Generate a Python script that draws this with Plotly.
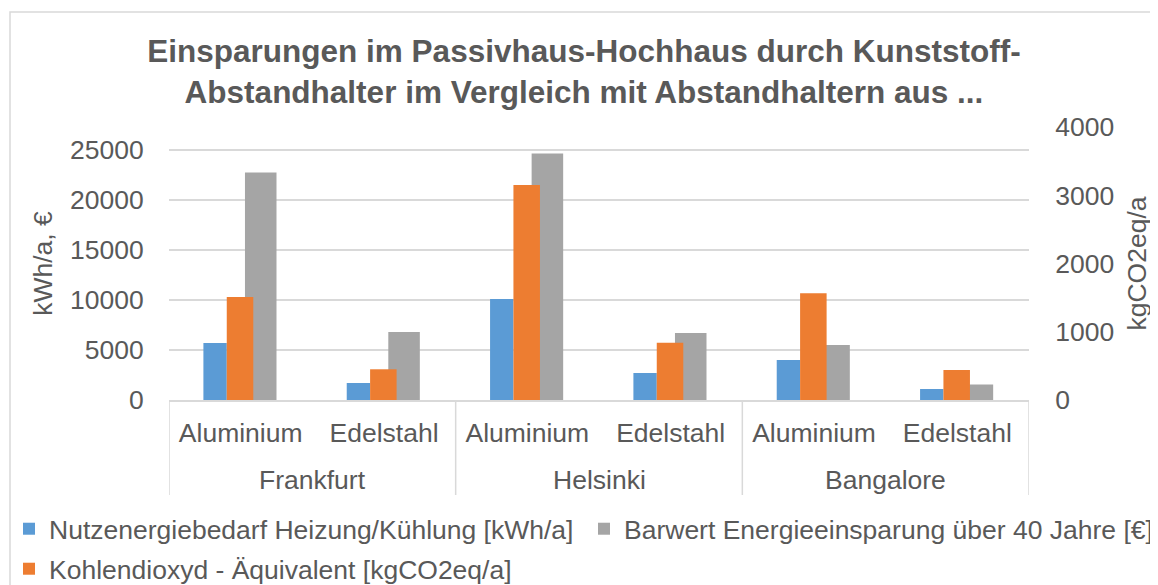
import plotly.graph_objects as go

# ---- data ----
cities = ["Frankfurt", "Helsinki", "Bangalore"]
materials = ["Aluminium", "Edelstahl", "Aluminium", "Edelstahl", "Aluminium", "Edelstahl"]
nutzenergie = [5700, 1700, 10100, 2700, 4000, 1100]        # kWh/a (left axis)
barwert = [22750, 6800, 24650, 6700, 5500, 1550]           # EUR (left axis)
co2 = [1510, 450, 3150, 840, 1565, 440]                    # kgCO2eq/a (right axis)
left_ticks = [0, 5000, 10000, 15000, 20000, 25000]
right_ticks = [0, 1000, 2000, 3000, 4000]

names = ["Nutzenergiebedarf Heizung/Kühlung [kWh/a]",
         "Barwert Energieeinsparung über 40 Jahre [€]",
         "Kohlendioxyd - Äquivalent [kgCO2eq/a]"]
colors = ["#5B9BD5", "#A5A5A5", "#ED7D31"]

# page body has an 8px margin -> figure drawn 8px right/down
OFF = 8
W, H = 1158 - OFF, 585 - OFF
L, T = 169 - OFF, 127 - OFF
PR, PB = 1029 - OFF, 400 - OFF      # plot right / bottom in figure px
R, B = W - PR, H - PB
PW, PH = PR - L, PB - T

def pyp(py_screen):
    return (PB - (py_screen - OFF)) / PH

def cy(py_screen):
    return 1 - (py_screen - OFF) / H

def cx(px_screen):
    return (px_screen - OFF) / W

FONT = "Liberation Sans, Arial, sans-serif"
TXT = "#595959"
GRID = "#D9D9D9"
FS = 26.5

pos = list(range(len(materials)))

fig = go.Figure()
fig.add_trace(go.Bar(x=pos, y=nutzenergie, name=names[0], marker_color=colors[0],
                     marker_line_width=0, offset=-0.26, width=0.163,
                     yaxis="y", legend="legend"))
fig.add_trace(go.Bar(x=pos, y=barwert, name=names[1], marker_color=colors[1],
                     marker_line_width=0, offset=0.03, width=0.22,
                     yaxis="y", legend="legend2"))
fig.add_trace(go.Bar(x=pos, y=co2, name=names[2], marker_color=colors[2],
                     marker_line_width=0, offset=-0.097, width=0.185,
                     yaxis="y2", legend="legend3"))

leg_common = dict(orientation="h", xref="container", yref="container",
                  xanchor="left", yanchor="middle",
                  font=dict(size=FS, color=TXT, family=FONT),
                  bgcolor="rgba(0,0,0,0)", itemwidth=30)

fig.update_layout(
    width=W, height=H,
    margin=dict(l=L, r=R, t=T, b=B, autoexpand=False),
    paper_bgcolor="white", plot_bgcolor="white",
    font=dict(family=FONT, color=TXT, size=FS),
    barmode="overlay",
    title=dict(text="<b>Einsparungen im Passivhaus-Hochhaus durch Kunststoff-<br>Abstandhalter im Vergleich mit Abstandhaltern aus ...</b>",
               font=dict(family=FONT, size=31.5, color=TXT),
               x=cx(584), xref="container", xanchor="center",
               y=cy(62), yref="container", yanchor="middle"),
    xaxis=dict(range=[-0.5, len(pos) - 0.5], tickvals=pos, ticktext=materials,
               showline=True, linecolor=GRID, linewidth=1.5,
               showgrid=False, zeroline=False, ticks="outside", ticklen=8,
               tickcolor="rgba(0,0,0,0)", tickfont=dict(size=FS, color=TXT)),
    yaxis=dict(range=[0, 27300], tickvals=left_ticks, ticktext=[str(v) for v in left_ticks],
               showgrid=True, gridcolor=GRID,
               gridwidth=1.5, zeroline=False, showline=False,
               ticks="outside", ticklen=19, tickcolor="rgba(0,0,0,0)",
               tickfont=dict(size=FS, color=TXT),
               title=dict(text="kWh/a, €", font=dict(size=FS, color=TXT), standoff=9)),
    yaxis2=dict(range=[0, 4000], tickvals=right_ticks, ticktext=[str(v) for v in right_ticks],
                overlaying="y", side="right",
                showgrid=False, zeroline=False, showline=False,
                ticks="outside", ticklen=20, tickcolor="rgba(0,0,0,0)",
                tickfont=dict(size=FS, color=TXT),
                title=dict(text="kgCO2eq/a", font=dict(size=FS, color=TXT), standoff=14)),
    legend=dict(leg_common, x=cx(9), y=cy(529)),
    legend2=dict(leg_common, x=cx(584), y=cy(529)),
    legend3=dict(leg_common, x=cx(9), y=cy(569)),
    showlegend=True,
)

# city labels (outer category level) and divider lines
for i, c in enumerate(cities):
    fig.add_annotation(x=2 * i + 0.5, xref="x", y=pyp(480), yref="paper",
                       text=c, showarrow=False, xanchor="center", yanchor="middle",
                       font=dict(size=FS, color=TXT, family=FONT))
for i in range(len(cities) + 1):
    fig.add_shape(type="line", xref="x", yref="paper",
                  x0=2 * i - 0.5, x1=2 * i - 0.5, y0=0, y1=pyp(495),
                  line=dict(color=GRID, width=1.5))

# chart frame
fig.add_shape(type="rect", xref="paper", yref="paper",
              x0=(10 - OFF - L) / PW, x1=(1200 - OFF - L) / PW,
              y0=pyp(640), y1=pyp(12),
              line=dict(color=GRID, width=1.5), fillcolor="rgba(0,0,0,0)", layer="below")

fig.write_html("out.html")
